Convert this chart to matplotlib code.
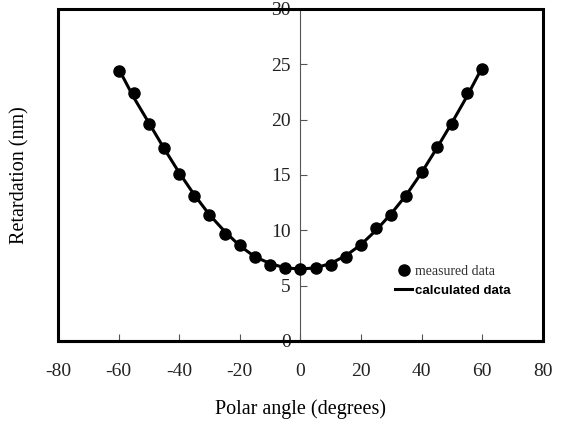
import numpy as np
import matplotlib.pyplot as plt
from matplotlib.patches import Rectangle

plt.rcParams['axes.unicode_minus'] = False

# polar angle (deg) and retardation (nm)
angle = [-60, -55, -50, -45, -40, -35, -30, -25, -20, -15, -10, -5, 0,
         5, 10, 15, 20, 25, 30, 35, 40, 45, 50, 55, 60]
measured = [24.4, 22.4, 19.6, 17.4, 15.1, 13.1, 11.4, 9.7, 8.7, 7.6, 6.9, 6.6, 6.5,
            6.6, 6.9, 7.6, 8.7, 10.2, 11.4, 13.1, 15.3, 17.5, 19.6, 22.4, 24.6]
calculated = [24.6, 22.0, 19.7, 17.4, 15.2, 13.2, 11.4, 9.9, 8.6, 7.6, 7.0, 6.6, 6.5,
              6.6, 7.0, 7.7, 8.7, 10.0, 11.5, 13.2, 15.2, 17.4, 19.7, 22.1, 24.7]

xticks = [-80, -60, -40, -20, 0, 20, 40, 60, 80]
yticks = [0, 5, 10, 15, 20, 25, 30]

serif = 'Liberation Serif'

fig = plt.figure(figsize=(5.63, 4.23), dpi=100)
ax = fig.add_axes([0.103, 0.194, 0.861, 0.785])

ax.plot(angle, calculated, color='black', lw=2.2, label='calculated data', zorder=2)
ax.plot(angle, measured, 'o', color='black', ms=8, label='measured data', zorder=3)

ax.set_xlim(-80, 80)
ax.set_ylim(0, 30)
ax.set_xticks(xticks)
ax.set_yticks(yticks)

# y axis goes through x=0, frame is drawn as a box
ax.spines['left'].set_position(('data', 0))
ax.spines['left'].set_color('#555555')
ax.spines['left'].set_linewidth(0.8)
ax.spines['right'].set_visible(False)
ax.spines['top'].set_visible(False)
ax.spines['bottom'].set_linewidth(2.2)
ax.add_patch(Rectangle((0, 0), 1, 1, transform=ax.transAxes, fill=False,
                       lw=2.2, ec='black', clip_on=False, zorder=4))

ax.tick_params(axis='x', direction='in', length=5, width=0.8, color='#555555',
               labelsize=14, pad=16)
ax.tick_params(axis='y', direction='in', length=5, width=0.8, color='#555555',
               labelsize=14, pad=7)
for lab in ax.get_xticklabels() + ax.get_yticklabels():
    lab.set_family(serif)
    lab.set_color('#222222')

ax.set_xlabel('Polar angle (degrees)', fontsize=14.5, family=serif, labelpad=14)
ax.set_ylabel('Retardation (nm)', fontsize=14.5, family=serif)
ax.yaxis.set_label_coords(-0.058, 0.5)

handles, labels = ax.get_legend_handles_labels()
leg = ax.legend(handles[::-1], labels[::-1], loc='center left',
                bbox_to_anchor=(0.67, 0.18), frameon=False,
                handlelength=1.2, handletextpad=0.2, labelspacing=0.45,
                fontsize=10)
leg.get_texts()[0].set_family(serif)
leg.get_texts()[0].set_color('#333333')
leg.get_texts()[1].set_fontweight('bold')
leg.get_texts()[1].set_family('Liberation Sans')
leg.get_texts()[1].set_fontsize(9.5)

plt.savefig('out.png', dpi=100)
